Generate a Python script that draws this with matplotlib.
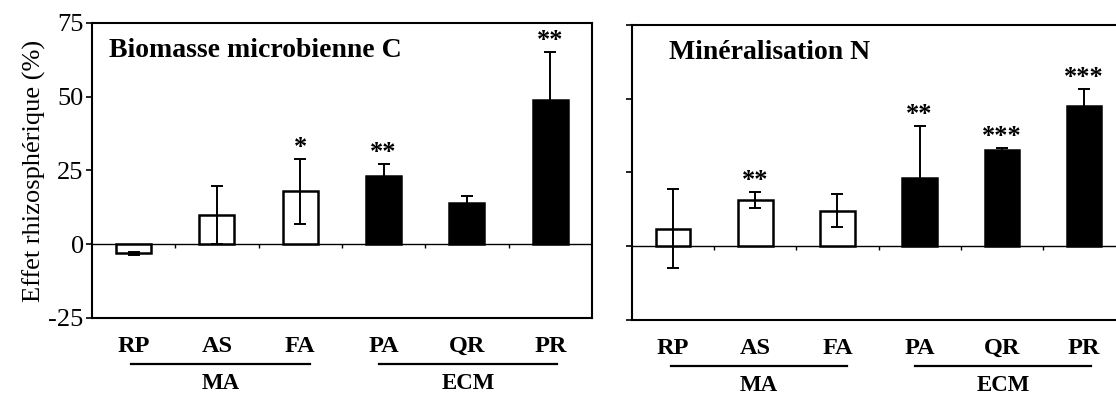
import matplotlib
matplotlib.use('Agg')
from matplotlib import pyplot as plt
import matplotlib.transforms as mtransforms

plt.rcParams['font.family'] = ['Liberation Serif', 'DejaVu Serif']

especes = ['RP', 'AS', 'FA', 'PA', 'QR', 'PR']
mycorhize = ['MA', 'MA', 'MA', 'ECM', 'ECM', 'ECM']

biomasse_c = [-3, 10, 18, 23, 14, 49]
biomasse_c_err = [0.5, 9.8, 11, 4.3, 2.5, 16]
biomasse_c_sig = ['', '', '*', '**', '', '**']

mineral_n = [6, 15.7, 12, 23.2, 32.7, 47.4]
mineral_n_err = [13.3, 2.6, 5.6, 17.4, 0.6, 5.9]
mineral_n_sig = ['', '**', '', '**', '***', '***']

yticks = [-25, 0, 25, 50, 75]

fig = plt.figure(figsize=(11.16, 3.96), dpi=100)
ax1 = fig.add_axes([0.0824, 0.197, 0.448, 0.745])
ax2 = fig.add_axes([0.5663, 0.192, 0.4418, 0.745])


def panel(ax, vals, errs, sig, titre, tx, ylabels):
    x = list(range(len(especes)))
    couleurs = ['white' if m == 'MA' else 'black' for m in mycorhize]
    ax.bar(x, vals, width=0.42, color=couleurs, edgecolor='black', linewidth=1.8, zorder=2)
    ax.errorbar(x, vals, yerr=errs, fmt='none', ecolor='black', elinewidth=1.4,
                capsize=4.5, capthick=1.4, zorder=3)
    ax.axhline(0, color='black', lw=1.0, zorder=1)
    # petites graduations entre les barres, sur la ligne du zero
    ax.vlines([i + 0.5 for i in x[:-1]], -1.4, 0, color='black', lw=1.0)
    for i in x:
        if sig[i]:
            ax.annotate(sig[i], xy=(i, vals[i] + errs[i]), xytext=(0, 0),
                        textcoords='offset points', ha='center', va='bottom',
                        fontsize=19, fontweight='bold')
    ax.set_xlim(-0.5, 5.5)
    ax.set_ylim(-25, 75)
    ax.set_yticks(yticks)
    if ylabels:
        ax.set_yticklabels([str(v) for v in yticks], fontsize=19)
    else:
        ax.set_yticklabels([])
    ax.tick_params(axis='y', direction='out', length=4, width=1.2, pad=2)
    ax.set_xticks(x)
    ax.set_xticklabels(especes, fontsize=17.5, fontweight='bold')
    ax.tick_params(axis='x', length=0, pad=13)
    for s in ax.spines.values():
        s.set_linewidth(1.5)
    ax.text(tx, 0.885, titre, transform=ax.transAxes, fontsize=20,
            fontweight='bold', ha='left', va='baseline')

    # traits et noms des groupes mycorhiziens
    trans = mtransforms.blended_transform_factory(ax.transData, ax.transAxes)
    for nom, (a, b) in [('MA', (-0.03, 2.12)), ('ECM', (2.95, 5.08))]:
        ax.plot([a, b], [-0.156, -0.156], color='black', lw=1.6,
                transform=trans, clip_on=False)
        ax.text((a + b) / 2, -0.222, nom, transform=trans, fontsize=16.5,
                fontweight='bold', ha='center', va='center')


panel(ax1, biomasse_c, biomasse_c_err, biomasse_c_sig, 'Biomasse microbienne C', 0.035, True)
panel(ax2, mineral_n, mineral_n_err, mineral_n_sig, 'Minéralisation N', 0.075, False)

ax1.set_ylabel('Effet rhizosphérique (%)', fontsize=19, labelpad=2)

fig.savefig('out.png', dpi=100)
